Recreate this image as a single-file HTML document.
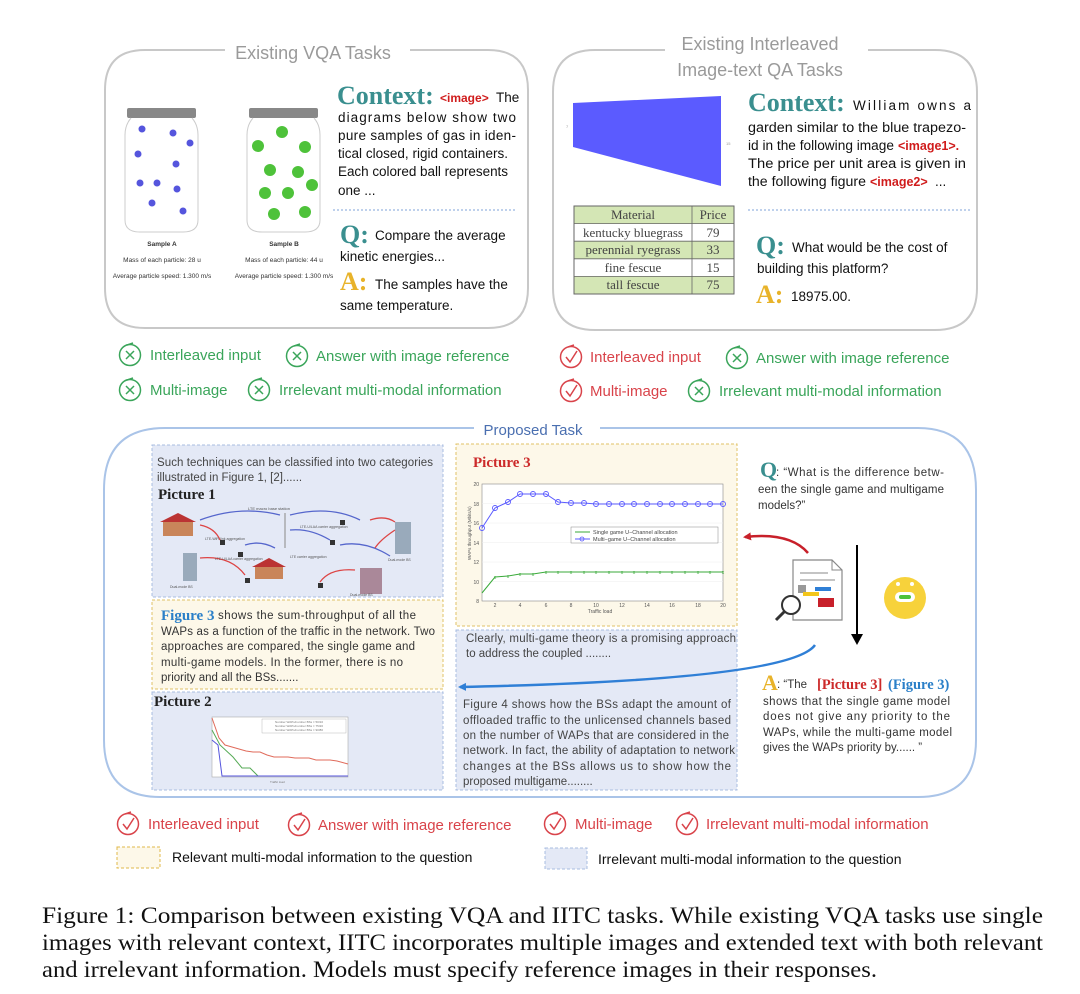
<!DOCTYPE html>
<html><head><meta charset="utf-8"><style>
html,body{margin:0;padding:0;background:#fff;}
svg{display:block;}
.s{font-family:"Liberation Sans",sans-serif;}
.r{font-family:"Liberation Serif",serif;}
</style></head><body>
<svg width="1080" height="994" viewBox="0 0 1080 994" xmlns="http://www.w3.org/2000/svg">
<defs>
<marker id="ab" markerWidth="8" markerHeight="8" refX="6" refY="4" orient="auto" markerUnits="userSpaceOnUse"><path d="M0,0 L8,4 L0,8 z" fill="#2f7fd6"/></marker>
<marker id="ar" markerWidth="8" markerHeight="8" refX="6" refY="4" orient="auto" markerUnits="userSpaceOnUse"><path d="M0,0 L8,4 L0,8 z" fill="#c8202a"/></marker>
<g id="gx"><circle cx="0" cy="0" r="10.5" fill="none" stroke="#3aa55a" stroke-width="1.5"/><path d="M-4,-4 L4,4 M4,-4 L-4,4" stroke="#3aa55a" stroke-width="1.5"/><path d="M-3,-10 L3,-12" stroke="#3aa55a" stroke-width="1.5"/></g>
<g id="rc"><circle cx="0" cy="0" r="10.5" fill="none" stroke="#d9434a" stroke-width="1.5"/><path d="M-5,0 L-1,5 L6,-6" fill="none" stroke="#d9434a" stroke-width="1.5"/><path d="M-3,-10 L3,-12" stroke="#d9434a" stroke-width="1.5"/></g>
</defs>

<!-- Top-left box -->
<path d="M225,50 L145,50 Q105,50 105,90 L105,288 Q105,328 145,328 L488,328 Q528,328 528,288 L528,90 Q528,50 488,50 L410,50" fill="none" stroke="#c8c8c8" stroke-width="2"/>
<text x="313" y="59" text-anchor="middle" class="s" font-size="18" fill="#9a9a9a">Existing VQA Tasks</text>
<g>
<rect x="127" y="108" width="69" height="10" rx="2" fill="#888"/>
<path d="M131,118 Q125,125 125,135 L125,220 Q125,232 140,232 L183,232 Q198,232 198,220 L198,135 Q198,125 192,118" fill="none" stroke="#ccc" stroke-width="1"/>
<rect x="249" y="108" width="69" height="10" rx="2" fill="#888"/>
<path d="M253,118 Q247,125 247,135 L247,220 Q247,232 262,232 L305,232 Q320,232 320,220 L320,135 Q320,125 314,118" fill="none" stroke="#ccc" stroke-width="1"/>
<g fill="#5555dd">
<circle cx="142" cy="129" r="3.5"/><circle cx="173" cy="133" r="3.5"/><circle cx="190" cy="143" r="3.5"/><circle cx="138" cy="154" r="3.5"/><circle cx="176" cy="164" r="3.5"/><circle cx="140" cy="183" r="3.5"/><circle cx="157" cy="183" r="3.5"/><circle cx="177" cy="189" r="3.5"/><circle cx="152" cy="203" r="3.5"/><circle cx="183" cy="211" r="3.5"/>
</g>
<g fill="#4ec23a">
<circle cx="282" cy="132" r="6"/><circle cx="258" cy="146" r="6"/><circle cx="305" cy="147" r="6"/><circle cx="270" cy="170" r="6"/><circle cx="298" cy="172" r="6"/><circle cx="312" cy="185" r="6"/><circle cx="265" cy="193" r="6"/><circle cx="288" cy="193" r="6"/><circle cx="274" cy="214" r="6"/><circle cx="305" cy="212" r="6"/>
</g>
<g class="s" font-size="6.5" fill="#333" text-anchor="middle">
<text x="162" y="246" font-weight="bold">Sample A</text><text x="162" y="262">Mass of each particle: 28 u</text><text x="162" y="278">Average particle speed: 1.300 m/s</text>
<text x="284" y="246" font-weight="bold">Sample B</text><text x="284" y="262">Mass of each particle: 44 u</text><text x="284" y="278">Average particle speed: 1.300 m/s</text>
</g>
</g>
<text x="337" y="104" class="r" font-size="26" font-weight="bold" fill="#3a8f8f">Context:</text>
<text x="440" y="102" class="s" font-size="12" font-weight="bold" fill="#d01c1c">&lt;image&gt;</text>
<text x="496" y="102" class="s" font-size="13.5" fill="#111">The</text>
<g class="s" font-size="13.5" fill="#111">
<text x="338" y="122" textLength="178" lengthAdjust="spacing">diagrams below show two</text>
<text x="338" y="140" textLength="178" lengthAdjust="spacing">pure samples of gas in iden-</text>
<text x="338" y="158" textLength="170">tical closed, rigid containers.</text>
<text x="338" y="176" textLength="170">Each colored ball represents</text>
<text x="338" y="195">one ...</text>
</g>
<line x1="333" y1="210" x2="515" y2="210" stroke="#7fa3d8" stroke-dasharray="2,2"/>
<text x="340" y="243" class="r" font-size="26" font-weight="bold" fill="#3a8f8f">Q:</text>
<text x="375" y="240" class="s" font-size="13.5" fill="#111">Compare the average</text>
<text x="340" y="261" class="s" font-size="13.5" fill="#111">kinetic energies...</text>
<text x="340" y="290" class="r" font-size="26" font-weight="bold" fill="#e8b32a">A:</text>
<text x="375" y="289" class="s" font-size="13.5" fill="#111">The samples have the</text>
<text x="340" y="310" class="s" font-size="13.5" fill="#111">same temperature.</text>

<!-- Top-right box -->
<path d="M665,50 L595,50 Q553,50 553,92 L553,288 Q553,330 595,330 L935,330 Q977,330 977,288 L977,92 Q977,50 935,50 L868,50" fill="none" stroke="#c8c8c8" stroke-width="2"/>
<text x="760" y="50" text-anchor="middle" class="s" font-size="18" fill="#9a9a9a">Existing Interleaved</text>
<text x="760" y="76" text-anchor="middle" class="s" font-size="18" fill="#9a9a9a">Image-text QA Tasks</text>
<polygon points="573,103 721,96 721,186 573,147" fill="#5b5bff"/>
<text x="566" y="128" font-size="4" fill="#999" class="s">7</text>
<text x="726" y="145" font-size="4" fill="#999" class="s">15</text>
<g>
<rect x="574" y="206" width="160" height="17.6" fill="#d4e6b5"/>
<rect x="574" y="241.2" width="160" height="17.6" fill="#d4e6b5"/>
<rect x="574" y="276.4" width="160" height="17.6" fill="#d4e6b5"/>
<rect x="574" y="206" width="160" height="88" fill="none" stroke="#666" stroke-width="1"/>
<g stroke="#666" stroke-width="0.8"><line x1="574" y1="223.6" x2="734" y2="223.6"/><line x1="574" y1="241.2" x2="734" y2="241.2"/><line x1="574" y1="258.8" x2="734" y2="258.8"/><line x1="574" y1="276.4" x2="734" y2="276.4"/><line x1="692" y1="206" x2="692" y2="294"/></g>
<g class="r" font-size="13" fill="#444" text-anchor="middle">
<text x="633" y="219">Material</text><text x="713" y="219">Price</text>
<text x="633" y="237">kentucky bluegrass</text><text x="713" y="237">79</text>
<text x="633" y="254">perennial ryegrass</text><text x="713" y="254">33</text>
<text x="633" y="272">fine fescue</text><text x="713" y="272">15</text>
<text x="633" y="289">tall fescue</text><text x="713" y="289">75</text>
</g>
</g>
<text x="748" y="111" class="r" font-size="26" font-weight="bold" fill="#3a8f8f">Context:</text>
<text x="853" y="110" class="s" font-size="13.5" fill="#111" textLength="118" lengthAdjust="spacing">William owns a</text>
<g class="s" font-size="13.5" fill="#111">
<text x="748" y="132" textLength="218" lengthAdjust="spacingAndGlyphs">garden similar to the blue trapezo-</text>
<text x="748" y="150" textLength="146" lengthAdjust="spacingAndGlyphs">id in the following image</text>
<text x="898" y="150" font-weight="bold" fill="#d01c1c" font-size="12.5">&lt;image1&gt;.</text>
<text x="748" y="168" textLength="218" lengthAdjust="spacingAndGlyphs">The price per unit area is given in</text>
<text x="748" y="186" textLength="118" lengthAdjust="spacingAndGlyphs">the following figure</text>
<text x="870" y="186" font-weight="bold" fill="#d01c1c" font-size="12.5">&lt;image2&gt;</text>
<text x="935" y="186">...</text>
</g>
<line x1="748" y1="210" x2="970" y2="210" stroke="#7fa3d8" stroke-dasharray="2,2"/>
<text x="756" y="254" class="r" font-size="26" font-weight="bold" fill="#3a8f8f">Q:</text>
<text x="792" y="252" class="s" font-size="13.5" fill="#111">What would be the cost of</text>
<text x="757" y="273" class="s" font-size="13.5" fill="#111">building this platform?</text>
<text x="756" y="303" class="r" font-size="26" font-weight="bold" fill="#e8b32a">A:</text>
<text x="791" y="301" class="s" font-size="13.5" fill="#111">18975.00.</text>

<!-- check rows top -->
<g class="s" font-size="15">
<use href="#gx" x="130" y="355"/><text x="150" y="360" fill="#3aa55a">Interleaved input</text>
<use href="#gx" x="297" y="356"/><text x="316" y="361" fill="#3aa55a">Answer with image reference</text>
<use href="#gx" x="130" y="390"/><text x="150" y="395" fill="#3aa55a">Multi-image</text>
<use href="#gx" x="259" y="390"/><text x="279" y="395" fill="#3aa55a">Irrelevant multi-modal information</text>
<use href="#rc" x="571" y="357"/><text x="590" y="362" fill="#d9434a">Interleaved input</text>
<use href="#gx" x="737" y="358"/><text x="756" y="363" fill="#3aa55a">Answer with image reference</text>
<use href="#rc" x="571" y="391"/><text x="590" y="396" fill="#d9434a">Multi-image</text>
<use href="#gx" x="699" y="391"/><text x="719" y="396" fill="#3aa55a">Irrelevant multi-modal information</text>
</g>

<!-- Proposed task box -->
<path d="M474,428 L165,428 Q104,428 104,490 L104,740 Q104,797 160,797 L918,797 Q976,797 976,740 L976,490 Q976,428 918,428 L600,428" fill="none" stroke="#aac4e8" stroke-width="2"/>
<text x="533" y="435" text-anchor="middle" class="s" font-size="15" fill="#4a6fb0">Proposed Task</text>

<!-- Picture 1 box -->
<rect x="152" y="445" width="291" height="152" fill="#e4e9f6" stroke="#a8bde0" stroke-dasharray="3,2"/>
<text x="157" y="466" class="s" font-size="11.5" fill="#444" textLength="276">Such techniques can be classified into two categories</text>
<text x="157" y="481" class="s" font-size="11.5" fill="#444">illustrated in Figure 1, [2]......</text>
<text x="158" y="499" class="r" font-size="15" font-weight="bold" fill="#222">Picture 1</text>
<g>
<text x="248" y="510" class="s" font-size="4" fill="#555">LTE macro base station</text>
<line x1="285" y1="513" x2="285" y2="548" stroke="#999" stroke-width="1.2"/>
<rect x="163" y="522" width="30" height="14" fill="#c9855a"/><polygon points="160,522 178,513 196,522" fill="#b33"/>
<rect x="183" y="553" width="14" height="28" fill="#9ab"/><rect x="395" y="522" width="16" height="32" fill="#9ab"/>
<rect x="360" y="568" width="22" height="26" fill="#a89"/><rect x="255" y="567" width="28" height="12" fill="#c9855a"/><polygon points="252,567 269,558 286,567" fill="#b33"/>
<g fill="none" stroke-width="1.3">
<path d="M200,520 Q240,505 280,515" stroke="#5566cc"/><path d="M290,515 Q330,505 360,520" stroke="#5566cc"/>
<path d="M290,530 Q310,528 330,540" stroke="#5566cc"/><path d="M340,545 Q365,540 390,556" stroke="#5566cc"/>
<path d="M200,525 Q215,528 220,540" stroke="#dd4444"/><path d="M200,558 Q230,555 245,575" stroke="#dd4444"/>
<path d="M395,530 Q380,540 375,548" stroke="#dd4444"/><path d="M355,570 Q330,568 320,582" stroke="#dd4444"/>
<path d="M370,520 Q385,515 395,522" stroke="#dd4444"/><path d="M245,545 Q260,540 275,548" stroke="#5566cc"/>
</g>
<g fill="#333"><rect x="220" y="540" width="5" height="5"/><rect x="330" y="540" width="5" height="5"/><rect x="340" y="520" width="5" height="5"/><rect x="245" y="578" width="5" height="5"/><rect x="318" y="583" width="5" height="5"/><rect x="238" y="552" width="5" height="5"/></g>
<g class="s" font-size="3.5" fill="#555"><text x="205" y="540">LTE-WiFi link aggregation</text><text x="300" y="528">LTE-U/LAA carrier aggregation</text><text x="215" y="560">LTE-U/LAA carrier aggregation</text><text x="290" y="558">LTE carrier aggregation</text><text x="170" y="588">Dual-mode BS</text><text x="388" y="561">Dual-mode BS</text><text x="350" y="596">Dual-mode BS</text></g>
</g>

<!-- Figure 3 text box -->
<rect x="152" y="600" width="291" height="89" fill="#fdf8e9" stroke="#e0c266" stroke-dasharray="3,2"/>
<g class="s" font-size="11.5" fill="#333">
<text x="161" y="620" class="r" font-size="15" font-weight="bold" fill="#2a7fc8">Figure 3</text>
<text x="218" y="619" textLength="198">shows the sum-throughput of all the</text>
<text x="161" y="635" textLength="274">WAPs as a function of the traffic in the network. Two</text>
<text x="161" y="650" textLength="254">approaches are compared, the single game and</text>
<text x="161" y="666" textLength="242">multi-game models. In the former, there is no</text>
<text x="161" y="681">priority and all the BSs.......</text>
</g>

<!-- Picture 2 box -->
<rect x="152" y="692" width="291" height="98" fill="#e4e9f6" stroke="#a8bde0" stroke-dasharray="3,2"/>
<text x="154" y="706" class="r" font-size="15" font-weight="bold" fill="#222">Picture 2</text>
<g>
<rect x="212" y="717" width="136" height="60" fill="#fff" stroke="#aaa" stroke-width="0.6"/>
<polyline points="212,718 219,738 225,745 232,747 239,749 246,751 253,752 260,752 267,755 274,757 281,757 288,757 295,758 302,758 309,758 316,760 323,760 330,760 337,761 348,764" fill="none" stroke="#e06b5b" stroke-width="1"/>
<polyline points="212,730 220,745 233,757 242,768 250,768 258,776 348,776" fill="none" stroke="#55aa55" stroke-width="1"/>
<polyline points="212,740 218,745 222,776 348,776" fill="none" stroke="#5555dd" stroke-width="1"/>
<rect x="262" y="719" width="84" height="14" fill="#fff" stroke="#aaa" stroke-width="0.4"/>
<g font-size="3" class="s" fill="#777"><text x="275" y="723">Number WAPs/number BSs = 50/10</text><text x="275" y="727">Number WAPs/number BSs = 75/20</text><text x="275" y="731">Number WAPs/number BSs = 90/80</text></g>
<text x="270" y="783" font-size="3" class="s" fill="#777">Traffic load</text>
</g>

<!-- Picture 3 box -->
<rect x="456" y="444" width="281" height="182" fill="#fdf8e9" stroke="#e0c266" stroke-dasharray="3,2"/>
<text x="473" y="467" class="r" font-size="15" font-weight="bold" fill="#cc2a2a">Picture 3</text>
<g>
<rect x="482" y="484" width="241" height="117" fill="#fff" stroke="#888" stroke-width="0.6"/>
<g stroke="#eee" stroke-width="0.5">
<line x1="482" y1="503.5" x2="723" y2="503.5"/><line x1="482" y1="523" x2="723" y2="523"/><line x1="482" y1="542.5" x2="723" y2="542.5"/><line x1="482" y1="562" x2="723" y2="562"/><line x1="482" y1="581.5" x2="723" y2="581.5"/>
</g>
<g class="s" font-size="5" fill="#555" text-anchor="end">
<text x="479" y="486">20</text><text x="479" y="506">18</text><text x="479" y="525">16</text><text x="479" y="545">14</text><text x="479" y="564">12</text><text x="479" y="584">10</text><text x="479" y="603">8</text>
</g>
<g class="s" font-size="5" fill="#555" text-anchor="middle">
<text x="495" y="607">2</text><text x="520" y="607">4</text><text x="546" y="607">6</text><text x="571" y="607">8</text><text x="596" y="607">10</text><text x="622" y="607">12</text><text x="647" y="607">14</text><text x="672" y="607">16</text><text x="698" y="607">18</text><text x="723" y="607">20</text>
<text x="600" y="613">Traffic load</text>
</g>
<text x="471" y="560" class="s" font-size="4.5" fill="#555" transform="rotate(-90 471 560)">WAPs throughput (Mbits/s)</text>
<polyline points="482,528 495,508 508,502 520,494 533,494 546,494 558,502 571,503 584,503 596,504 609,504 622,504 634,504 647,504 660,504 672,504 685,504 698,504 710,504 723,504" fill="none" stroke="#5b5bff" stroke-width="1"/>
<g fill="none" stroke="#5b5bff" stroke-width="0.9">
<circle cx="482" cy="528" r="2.5"/><circle cx="495" cy="508" r="2.5"/><circle cx="508" cy="502" r="2.5"/><circle cx="520" cy="494" r="2.5"/><circle cx="533" cy="494" r="2.5"/><circle cx="546" cy="494" r="2.5"/><circle cx="558" cy="502" r="2.5"/><circle cx="571" cy="503" r="2.5"/><circle cx="584" cy="503" r="2.5"/><circle cx="596" cy="504" r="2.5"/><circle cx="609" cy="504" r="2.5"/><circle cx="622" cy="504" r="2.5"/><circle cx="634" cy="504" r="2.5"/><circle cx="647" cy="504" r="2.5"/><circle cx="660" cy="504" r="2.5"/><circle cx="672" cy="504" r="2.5"/><circle cx="685" cy="504" r="2.5"/><circle cx="698" cy="504" r="2.5"/><circle cx="710" cy="504" r="2.5"/><circle cx="723" cy="504" r="2.5"/>
</g>
<polyline points="482,593 495,577 508,576 520,574 533,574 546,572 558,572 571,572 584,572 596,572 609,572 622,572 634,572 647,572 660,572 672,572 685,572 698,572 710,572 723,572" fill="none" stroke="#3aaa3a" stroke-width="1"/>
<g class="s" font-size="5" fill="#3aaa3a" text-anchor="middle">
<text x="495" y="579">x</text><text x="508" y="578">x</text><text x="520" y="576">x</text><text x="533" y="576">x</text><text x="546" y="574">x</text><text x="558" y="574">x</text><text x="571" y="574">x</text><text x="584" y="574">x</text><text x="596" y="574">x</text><text x="609" y="574">x</text><text x="622" y="574">x</text><text x="634" y="574">x</text><text x="647" y="574">x</text><text x="660" y="574">x</text><text x="672" y="574">x</text><text x="685" y="574">x</text><text x="698" y="574">x</text><text x="710" y="574">x</text><text x="723" y="574">x</text>
</g>
<rect x="571" y="527" width="147" height="16" fill="#fff" stroke="#888" stroke-width="0.5"/>
<line x1="575" y1="532" x2="590" y2="532" stroke="#3aaa3a"/><line x1="575" y1="539" x2="590" y2="539" stroke="#5b5bff"/><circle cx="582" cy="539" r="2" fill="none" stroke="#5b5bff" stroke-width="0.8"/>
<text x="593" y="534" class="s" font-size="5.5" fill="#444">Single game U−Channel allocation</text>
<text x="593" y="541" class="s" font-size="5.5" fill="#444">Multi−game U−Channel allocation</text>
</g>

<!-- Clearly box -->
<rect x="456" y="630" width="281" height="160" fill="#e4e9f6" stroke="#a8bde0" stroke-dasharray="3,2"/>
<g class="s" font-size="11.5" fill="#444">
<text x="466" y="642" textLength="270">Clearly, multi-game theory is a promising approach</text>
<text x="466" y="657">to address the coupled ........</text>
<text x="463" y="708" textLength="268">Figure 4 shows how the BSs adapt the amount of</text>
<text x="463" y="724" textLength="268">offloaded traffic to the unlicensed channels based</text>
<text x="463" y="739" textLength="266">on the number of WAPs that are considered in the</text>
<text x="463" y="754" textLength="272">network. In fact, the ability of adaptation to network</text>
<text x="463" y="770" textLength="268">changes at the BSs allows us to show how the</text>
<text x="463" y="785">proposed multigame........</text>
</g>

<!-- Q right -->
<text x="760" y="477" class="r" font-size="22" font-weight="bold" fill="#3a8f8f">Q</text>
<g class="s" font-size="11.5" fill="#333">
<text x="776" y="476" textLength="168">: “What is the difference betw-</text>
<text x="758" y="493" textLength="186">een the single game and multigame</text>
<text x="758" y="509">models?”</text>
</g>
<path d="M793,560 L832,560 L842,570 L842,620 L793,620 Z" fill="#fff" stroke="#888" stroke-width="1.2"/>
<path d="M832,560 L832,570 L842,570" fill="none" stroke="#888"/>
<line x1="800" y1="573" x2="828" y2="573" stroke="#888"/><line x1="800" y1="580" x2="835" y2="580" stroke="#888"/>
<rect x="798" y="585" width="8" height="8" fill="#999"/><rect x="815" y="587" width="16" height="4" fill="#2f7fd6"/>
<rect x="803" y="592" width="16" height="4" fill="#f3c51a"/><rect x="818" y="598" width="16" height="9" fill="#c8202a"/>
<circle cx="791" cy="605" r="9" fill="#fff" stroke="#333" stroke-width="2"/><line x1="785" y1="611" x2="776" y2="620" stroke="#333" stroke-width="3"/>
<circle cx="905" cy="598" r="21" fill="#f7d23b"/>
<rect x="895" y="592" width="20" height="10" rx="5" fill="#fff"/><rect x="899" y="595" width="12" height="4" rx="2" fill="#4ec23a"/>
<circle cx="898" cy="584" r="2" fill="#fff"/><circle cx="912" cy="584" r="2" fill="#fff"/>
<line x1="857" y1="545" x2="857" y2="636" stroke="#000" stroke-width="2"/>
<path d="M851,634 L863,634 L857,645 z" fill="#000"/>
<path d="M808,553 Q790,532 745,537" fill="none" stroke="#c8202a" stroke-width="2.5" marker-end="url(#ar)"/>
<path d="M815,645 Q790,680 460,687" fill="none" stroke="#2f7fd6" stroke-width="2.5" marker-end="url(#ab)"/>
<text x="762" y="690" class="r" font-size="22" font-weight="bold" fill="#e8b32a">A</text>
<text x="777" y="688" class="s" font-size="11.5" fill="#333">: “The</text>
<text x="817" y="689" class="r" font-size="14.5" font-weight="bold" fill="#cc2a2a">[Picture 3]</text>
<text x="888" y="689" class="r" font-size="14.5" font-weight="bold" fill="#2a7fc8">(Figure 3)</text>
<g class="s" font-size="11.5" fill="#333">
<text x="763" y="705" textLength="187">shows that the single game model</text>
<text x="763" y="720" textLength="187">does not give any priority to the</text>
<text x="763" y="736" textLength="189">WAPs, while the multi-game model</text>
<text x="763" y="751">gives the WAPs priority by...... ”</text>
</g>

<!-- bottom check row -->
<g class="s" font-size="15" fill="#d9434a">
<use href="#rc" x="128" y="824"/><text x="148" y="829">Interleaved input</text>
<use href="#rc" x="299" y="825"/><text x="318" y="830">Answer with image reference</text>
<use href="#rc" x="555" y="824"/><text x="575" y="829">Multi-image</text>
<use href="#rc" x="687" y="824"/><text x="706" y="829">Irrelevant multi-modal information</text>
</g>
<rect x="117" y="847" width="43" height="21" fill="#fdf8e9" stroke="#e0b84a" stroke-dasharray="3,2"/>
<text x="172" y="862" class="s" font-size="14" fill="#111">Relevant multi-modal information to the question</text>
<rect x="545" y="848" width="42" height="21" fill="#e4e9f6" stroke="#a8bde0" stroke-dasharray="3,2"/>
<text x="598" y="864" class="s" font-size="14" fill="#111">Irrelevant multi-modal information to the question</text>

<!-- caption -->
<g class="r" font-size="23.5" fill="#111">
<text x="42" y="923" textLength="1001" lengthAdjust="spacingAndGlyphs">Figure 1:  Comparison between existing VQA and IITC tasks. While existing VQA tasks use single</text>
<text x="42" y="950" textLength="1001" lengthAdjust="spacingAndGlyphs">images with relevant context, IITC incorporates multiple images and extended text with both relevant</text>
<text x="42" y="977" textLength="835" lengthAdjust="spacingAndGlyphs">and irrelevant information. Models must specify reference images in their responses.</text>
</g>
</svg>
</body></html>
